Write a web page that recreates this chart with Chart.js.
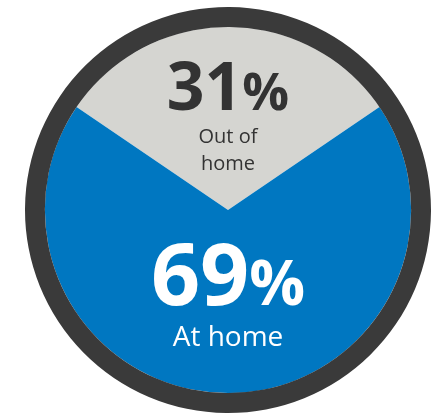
<!DOCTYPE html>
<html>
<head>
<meta charset="utf-8">
<script src="https://cdn.jsdelivr.net/npm/chart.js@4.4.1/dist/chart.umd.min.js"></script>
<style>
  html, body { margin: 0; padding: 0; background: #ffffff; }
  #wrap { width: 435px; height: 413px; }
</style>
</head>
<body>
<div id="wrap"><canvas id="c" width="435" height="413"></canvas></div>
<script>
const categories = ["Out of home", "At home"];
const labelLines = [["Out of", "home"], ["At home"]];
const shares = [31, 69];
const sliceColors = ["#d5d5d1", "#0077c1"];
const textColors = ["#333333", "#ffffff"];

const centerText = {
  id: "centerText",
  afterDatasetsDraw(chart) {
    const meta = chart.getDatasetMeta(1);
    const arc = meta.data[0];
    const cx = arc.x, cy = arc.y;
    const ctx = chart.ctx;
    ctx.save();
    ctx.textBaseline = "alphabetic";
    function drawPct(value, numSize, pctSize, baseY, color) {
      const num = String(value);
      ctx.font = "700 " + numSize + "px 'Open Sans'";
      const wn = ctx.measureText(num).width;
      ctx.font = "700 " + pctSize + "px 'Open Sans'";
      const wp = ctx.measureText("%").width;
      const x0 = cx - (wn + wp) / 2;
      ctx.fillStyle = color;
      ctx.textAlign = "left";
      ctx.font = "700 " + numSize + "px 'Open Sans'";
      ctx.fillText(num, x0, baseY);
      ctx.font = "700 " + pctSize + "px 'Open Sans'";
      ctx.fillText("%", x0 + wn, baseY);
    }
    // Out of home (top)
    drawPct(shares[0], 66, 52, cy - 100, textColors[0]);
    ctx.textAlign = "center";
    ctx.fillStyle = textColors[0];
    ctx.font = "500 20px 'Open Sans'";
    ctx.fillText(labelLines[0][0], cx, cy - 67);
    ctx.fillText(labelLines[0][1], cx, cy - 40);
    // At home (bottom)
    drawPct(shares[1], 86, 62, cy + 95, textColors[1]);
    ctx.textAlign = "center";
    ctx.fillStyle = textColors[1];
    ctx.font = "500 28px 'Open Sans'";
    ctx.fillText(labelLines[1][0], cx, cy + 136);
    ctx.restore();
  }
};

new Chart(document.getElementById("c"), {
  type: "doughnut",
  data: {
    labels: categories,
    datasets: [
      { data: [100], backgroundColor: ["#3a3a3a"], borderWidth: 0, weight: 20 },
      { data: shares, backgroundColor: sliceColors, borderWidth: 0, weight: 184 }
    ]
  },
  options: {
    responsive: false,
    animation: false,
    cutout: 0,
    rotation: -shares[0] * 3.6 / 2,
    layout: { padding: { left: 23, right: 2, top: 7, bottom: -3 } },
    plugins: { legend: { display: false }, tooltip: { enabled: false } }
  },
  plugins: [centerText]
});
</script>
</body>
</html>
